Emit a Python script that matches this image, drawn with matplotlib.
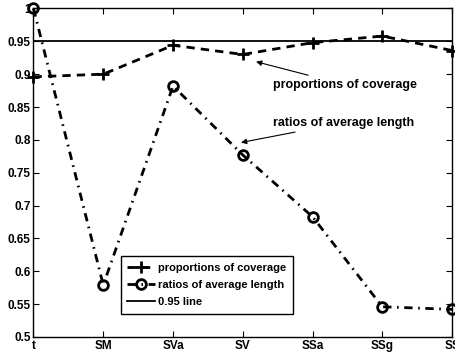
import matplotlib
matplotlib.use("Agg")
import matplotlib.pyplot as plt

# categorias del eje x (la primera y la ultima quedan cortadas en el borde)
metodos = ['t', 'SM', 'SVa', 'SV', 'SSa', 'SSg', 'SS']
posiciones = [1, 2, 3, 4, 5, 6, 7]

# proporciones de cobertura y razones de longitud promedio
cobertura = [0.896, 0.900, 0.944, 0.930, 0.948, 0.958, 0.936]
longitud = [1.000, 0.579, 0.882, 0.777, 0.683, 0.546, 0.542]
nivel = 0.95

plt.rcParams['font.family'] = ['Liberation Sans', 'DejaVu Sans']
plt.rcParams['font.weight'] = 'bold'
plt.rcParams['font.size'] = 8

fig = plt.figure(figsize=(4.55, 3.56), dpi=100)
ax = fig.add_axes([0.0736, 0.0534, 0.92, 0.9228])

ax.plot(posiciones, cobertura, color='black', linestyle='--', dashes=(3, 2.2),
        linewidth=2, marker='+', markersize=8, markeredgewidth=2,
        label='proportions of coverage', clip_on=False)
ax.plot(posiciones, longitud, color='black', linestyle='-.', dashes=(3, 2, 0.6, 2),
        linewidth=2, marker='o', markersize=7, markeredgewidth=2,
        markerfacecolor='none', label='ratios of average length', clip_on=False)
ax.axhline(nivel, color='black', linewidth=1.3, label='0.95 line')

# flechas con las etiquetas de cada serie
ax.annotate('proportions of coverage', xy=(4.19, 0.919), xytext=(4.43, 0.884),
            ha='left', va='center', fontsize=9, fontweight='bold',
            arrowprops=dict(arrowstyle='-|>', color='black', lw=0.8,
                            mutation_scale=8, shrinkA=2, shrinkB=0))
ax.annotate('ratios of average length', xy=(3.975, 0.796), xytext=(4.43, 0.826),
            ha='left', va='center', fontsize=9, fontweight='bold',
            arrowprops=dict(arrowstyle='-|>', color='black', lw=0.8,
                            mutation_scale=8, shrinkA=2, shrinkB=0))

ax.set_xlim(1, 7)
ax.set_ylim(0.5, 1.0)
ax.set_xticks(posiciones)
ax.set_xticklabels(metodos)
yt = [0.5, 0.55, 0.6, 0.65, 0.7, 0.75, 0.8, 0.85, 0.9, 0.95, 1.0]
ax.set_yticks(yt)
ax.set_yticklabels(['%g' % v for v in yt])
ax.tick_params(direction='in', top=True, right=True, length=4, width=0.8,
               labelsize=8.5, pad=2)
for lado in ax.spines.values():
    lado.set_linewidth(1)

leg = ax.legend(loc='lower left', bbox_to_anchor=(0.208, 0.07), fontsize=8,
                fancybox=False, edgecolor='black', framealpha=1,
                handlelength=2.5, handletextpad=0.3, borderpad=0.6,
                labelspacing=0.65, borderaxespad=0)
leg.get_frame().set_linewidth(1)

plt.savefig('out.png', dpi=100)
